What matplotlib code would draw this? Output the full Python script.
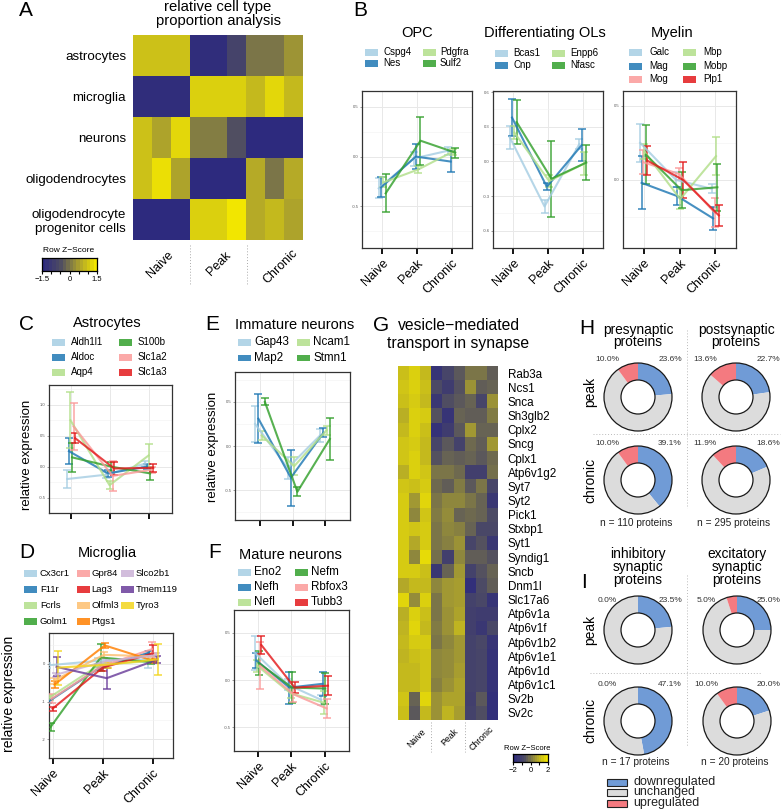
import numpy as np
import matplotlib
matplotlib.use("agg")
import matplotlib.pyplot as plt
from matplotlib.colors import LinearSegmentedColormap
from matplotlib.patches import Rectangle, Circle

plt.rcParams["font.family"] = ["Liberation Sans", "DejaVu Sans"]

# ---------------- data ----------------
conditions = ["Naive", "Peak", "Chronic"]

# A: relative cell type proportion (row z-scores, 3 replicates per condition)
cell_types = ["astrocytes", "microglia", "neurons", "oligodendrocytes",
              "oligodendrocyte\nprogenitor cells"]
a_z = [
    [1.0, 1.0, 1.0, -1.4, -1.4, -0.8, 0.0, 0.0, 0.4],
    [-1.4, -1.4, -1.4, 1.2, 1.2, 1.2, 0.9, 1.3, 0.9],
    [1.0, 0.6, 1.3, 0.1, 0.1, -0.5, -1.5, -1.5, -1.5],
    [1.0, 1.4, 0.6, -1.5, -1.5, -1.5, 0.7, 0.0, 0.7],
    [-1.5, -1.5, -1.5, 1.2, 1.2, 1.5, 0.7, 0.9, 0.6],
]

# B
opc_genes = ["Cspg4", "Nes", "Pdgfra", "Sulf2"]
opc_mean = [[-0.32, -0.02, 0.06], [-0.31, 0.0, -0.05], [-0.26, -0.13, 0.05], [-0.37, 0.16, 0.04]]
opc_err = [[0.1, 0.07, 0.04], [0.1, 0.13, 0.11], [0.05, 0.04, 0.03], [0.19, 0.24, 0.05]]

dol_genes = ["Bcas1", "Cnp", "Enpp6", "Nfasc"]
dol_mean = [[0.21, -0.39, 0.15], [0.38, -0.22, 0.14], [0.25, -0.17, -0.02], [0.34, -0.15, -0.01]]
dol_err = [[0.1, 0.06, 0.04], [0.16, 0.03, 0.14], [0.06, 0.05, 0.1], [0.19, 0.33, 0.15]]

mye_genes = ["Galc", "Mag", "Mog", "Mbp", "Mobp", "Plp1"]
mye_mean = [[0.25, 0.0, -0.06], [-0.02, -0.11, -0.26], [0.12, 0.04, -0.22],
            [0.19, -0.13, 0.16], [0.17, -0.07, -0.05], [0.13, 0.0, -0.24]]
mye_err = [[0.13, 0.05, 0.03], [0.18, 0.06, 0.08], [0.08, 0.04, 0.1],
           [0.05, 0.07, 0.13], [0.2, 0.12, 0.16], [0.1, 0.12, 0.07]]

# C
ast_genes = ["Aldh1l1", "Aldoc", "Aqp4", "S100b", "Slc1a2", "Slc1a3"]
ast_mean = [[-0.2, -0.13, 0.05], [0.25, -0.11, 0.0], [0.75, -0.3, 0.18],
            [0.15, 0.0, -0.11], [0.65, -0.15, -0.05], [0.46, -0.03, -0.02]]
ast_err = [[0.15, 0.05, 0.04], [0.21, 0.05, 0.04], [0.45, 0.06, 0.18],
           [0.24, 0.07, 0.1], [0.38, 0.24, 0.05], [0.08, 0.1, 0.06]]

# D
mic_genes = ["Cx3cr1", "F11r", "Fcrls", "Golm1", "Gpr84", "Lag3", "Olfml3", "Ptgs1",
             "Slco2b1", "Tmem119", "Tyro3"]
mic_mean = [[-0.04, 0.08, 0.12], [-1.0, -0.12, 0.3], [-0.89, -0.02, 0.07], [-1.68, 0.17, 0.05],
            [-0.93, -0.06, 0.39], [-1.19, -0.1, 0.28], [-0.45, 0.24, 0.2], [-0.55, 0.49, 0.07],
            [-0.29, 0.07, 0.23], [-0.08, -0.38, 0.11], [-0.1, -0.02, 0.12]]
mic_err = [[0.07, 0.08, 0.22], [0.03, 0.05, 0.05], [0.06, 0.06, 0.05], [0.1, 0.35, 0.05],
           [0.12, 0.06, 0.2], [0.05, 0.08, 0.22], [0.08, 0.08, 0.1], [0.1, 0.06, 0.05],
           [0.05, 0.05, 0.06], [0.25, 0.28, 0.1], [0.45, 0.08, 0.42]]

# E
imm_genes = ["Gap43", "Map2", "Ncam1", "Stmn1"]
imm_mean = [[0.25, -0.25, 0.12], [0.31, -0.36, 0.15], [0.12, -0.23, 0.18], [0.5, -0.52, 0.08]]
imm_err = [[0.2, 0.12, 0.07], [0.28, 0.32, 0.05], [0.05, 0.1, 0.05], [0.04, 0.05, 0.24]]

# F
mat_genes = ["Eno2", "Nefh", "Nefl", "Nefm", "Rbfox3", "Tubb3"]
mat_mean = [[0.29, -0.05, -0.21], [0.21, -0.08, -0.04], [0.15, -0.14, -0.24],
            [0.18, -0.08, -0.09], [0.15, -0.15, -0.3], [0.37, -0.08, -0.06]]
mat_err = [[0.18, 0.06, 0.05], [0.08, 0.17, 0.13], [0.06, 0.05, 0.12],
           [0.13, 0.16, 0.16], [0.25, 0.08, 0.1], [0.09, 0.06, 0.1]]

# G: vesicle-mediated transport in synapse (row z-scores)
g_genes = ["Rab3a", "Ncs1", "Snca", "Sh3glb2", "Cplx2", "Sncg", "Cplx1", "Atp6v1g2", "Syt7",
           "Syt2", "Pick1", "Stxbp1", "Syt1", "Syndig1", "Sncb", "Dnm1l", "Slc17a6",
           "Atp6v1a", "Atp6v1f", "Atp6v1b2", "Atp6v1e1", "Atp6v1d", "Atp6v1c1", "Sv2b", "Sv2c"]
g_z = [
    [1.3, 1.6, 1.2, -1.6, -1.0, -0.5, 0.0, 0.0, -0.4],
    [1.4, 1.6, 1.3, -0.8, -1.3, -0.6, 0.5, -0.4, -0.3],
    [1.3, 1.5, 1.2, -1.5, -0.7, -0.5, -0.3, -1.0, 0.5],
    [1.0, 1.6, 1.5, -0.6, -1.6, -0.3, -0.4, -0.4, 0.1],
    [1.2, 1.6, 1.3, -1.7, -1.3, -0.5, 0.6, -0.3, -0.3],
    [1.4, 1.5, 1.2, -1.0, -0.5, -1.1, -0.2, -0.4, 0.6],
    [1.4, 1.6, 1.2, -0.6, -0.3, -0.4, -0.3, -0.5, -0.2],
    [1.0, 1.6, 1.4, 0.0, 0.0, -0.2, -1.2, -1.2, -0.1],
    [1.4, 1.3, 1.5, -0.2, -0.4, 0.1, -0.5, 0.0, -1.0],
    [1.5, 0.6, 1.7, 0.0, 0.3, 0.3, 0.0, -0.3, -1.5],
    [1.5, 0.3, 1.4, 0.1, 0.4, -0.3, -0.2, -0.3, -0.8],
    [1.5, 1.4, 1.5, 0.0, 0.3, 0.2, -0.3, -0.9, -0.9],
    [1.5, 0.9, 1.5, 0.0, 0.2, 0.5, -1.0, -0.6, -1.5],
    [1.5, 0.3, 1.8, -0.1, -1.2, 0.3, -0.4, -0.4, -0.6],
    [1.5, 1.5, 1.3, -1.5, -0.3, 0.6, -1.1, -0.6, -0.3],
    [0.9, 1.2, 1.2, 0.3, 0.6, 0.7, -1.8, -0.8, -0.4],
    [1.7, 0.4, 1.6, 0.0, 0.6, 0.7, -1.1, -0.9, -1.6],
    [1.0, 1.6, 1.3, 0.0, 0.5, 0.8, -1.2, -1.3, -1.3],
    [1.1, 1.7, 1.2, 0.1, 0.5, 1.1, -1.2, -1.5, -0.9],
    [1.2, 1.5, 1.5, 0.0, 0.3, 0.6, -1.1, -0.9, -1.6],
    [1.1, 1.3, 1.4, 0.3, 0.4, 0.6, -1.1, -1.0, -1.7],
    [1.2, 1.2, 1.4, 0.3, 0.4, 0.7, -1.1, -1.0, -1.7],
    [1.2, 1.2, 1.4, 0.2, 0.5, 0.8, -1.1, -1.0, -1.7],
    [1.4, -0.3, 1.7, 0.5, 0.8, 0.8, -1.2, -0.5, -1.8],
    [1.3, -0.5, 1.2, 0.5, 1.1, 0.7, -1.1, -0.7, -1.8],
]

# H / I: % of proteins down / up regulated
h_titles = ["presynaptic\nproteins", "postsynaptic\nproteins"]
h_peak_down = [23.6, 22.7]
h_peak_up = [10.0, 13.6]
h_chronic_down = [39.1, 18.6]
h_chronic_up = [10.0, 11.9]
h_n = [110, 295]

i_titles = ["inhibitory\nsynaptic\nproteins", "excitatory\nsynaptic\nproteins"]
i_peak_down = [23.5, 25.0]
i_peak_up = [0.0, 5.0]
i_chronic_down = [47.1, 20.0]
i_chronic_up = [0.0, 10.0]
i_n = [17, 20]

reg_labels = ["downregulated", "unchanged", "upregulated"]
reg_colors = ["#709bd6", "#dcdcdc", "#f47a80"]

pal = ["#a6cee3", "#1f78b4", "#b2df8a", "#33a02c", "#fb9a99", "#e31a1c",
       "#fdbf6f", "#ff7f00", "#cab2d6", "#6a3d9a", "#f3d51e"]

hm_cmap = LinearSegmentedColormap.from_list(
    "bgy", [(0, "#2d2a7e"), (0.33, "#4f4d62"), (0.5, "#7b7548"), (0.67, "#a69c30"), (1, "#f2e600")])

# ---------------- helpers ----------------
W, H = 784, 811
fig = plt.figure(figsize=(W / 100, H / 100), dpi=100)


def axp(x0, y0, x1, y1):
    return fig.add_axes([x0 / W, 1 - y1 / H, (x1 - x0) / W, (y1 - y0) / H])


def ftext(x, y, s, **kw):
    return fig.text(x / W, 1 - y / H, s, **kw)


def legend_grid(xp, xl, ys, genes, colors, fs, pw=13, ph=7):
    nrows = len(ys)
    for k, (g, c) in enumerate(zip(genes, colors)):
        col, row = divmod(k, nrows)
        y = ys[row]
        fig.patches.append(Rectangle((xp[col] / W, 1 - (y + ph / 2) / H), pw / W, ph / H,
                                     transform=fig.transFigure, facecolor=c, alpha=0.85,
                                     edgecolor="none"))
        ftext(xl[col], y, g, ha="left", va="center", fontsize=fs)


def line_panel(box, means, errs, colors, ylim, yticks, ylabels, xlim, dodge=0.2, xlabels=True):
    ax = axp(*box)
    x = np.arange(1, 4)
    n = len(means)
    offs = np.linspace(-dodge / 2, dodge / 2, n)
    for i in range(n):
        ax.errorbar(x + offs[i], means[i], yerr=errs[i], color=colors[i], lw=1.5,
                    capsize=2.6, capthick=1.2, elinewidth=1.2, alpha=0.82, zorder=3)
    ax.set_xlim(*xlim)
    ax.set_ylim(*ylim)
    ax.set_yticks(yticks, ylabels)
    step = yticks[1] - yticks[0]
    ax.set_yticks(np.arange(yticks[0] - step / 2, ylim[1], step), minor=True)
    ax.set_xticks(x)
    if xlabels:
        ax.set_xticklabels(conditions, rotation=45, ha="right", rotation_mode="anchor", fontsize=9)
    else:
        ax.set_xticklabels([])
    ax.grid(which="major", color="#e8e8e8", lw=0.7)
    ax.grid(which="minor", axis="y", color="#f2f2f2", lw=0.4)
    ax.set_axisbelow(True)
    ax.tick_params(axis="y", which="major", labelsize=3, colors="#555555", length=1.5, width=0.4, pad=1)
    ax.tick_params(axis="y", which="minor", length=0)
    ax.tick_params(axis="x", length=4.5, width=1.3, color="black", pad=2)
    for s in ax.spines.values():
        s.set_color("#333333")
        s.set_linewidth(0.9)
    return ax


def heatmap(box, z, vmin, vmax):
    ax = axp(*box)
    z = np.array(z)
    ax.pcolormesh(z, cmap=hm_cmap, vmin=vmin, vmax=vmax)
    ax.set_xlim(0, z.shape[1])
    ax.set_ylim(z.shape[0], 0)
    for s in ax.spines.values():
        s.set_visible(False)
    ax.set_xticks([])
    return ax


def color_key(box, vmin, vmax, ticks, labels):
    ax = axp(*box)
    vals = np.linspace(vmin, vmax, 16)
    ax.pcolormesh(np.linspace(vmin, vmax, 17), [0, 1], vals[None, :], cmap=hm_cmap, vmin=vmin, vmax=vmax)
    ax.set_yticks([])
    ax.set_xticks(ticks, labels)
    ax.tick_params(axis="x", labelsize=5.5, length=2.5, width=0.8, pad=1)
    for s in ax.spines.values():
        s.set_linewidth(0.9)
    return ax


def donut(cx, cy, down, up, r=34):
    ax = axp(cx - r * 1.03, cy - r * 1.03, cx + r * 1.03, cy + r * 1.03)
    ax.pie([down, 100 - down - up, up], colors=reg_colors, startangle=90, counterclock=False,
           radius=1, wedgeprops=dict(width=0.5, edgecolor="none", linewidth=0))
    ax.add_patch(Circle((0, 0), 1, fill=False, ec="#1a1a1a", lw=0.9))
    ax.add_patch(Circle((0, 0), 0.5, fill=False, ec="#1a1a1a", lw=0.9))
    ax.set_xlim(-1.03, 1.03)
    ax.set_ylim(-1.03, 1.03)
    ax.set_aspect("equal")
    ax.axis("off")


def pct_labels(cx, ly, down, up):
    ftext(cx - 31, ly, f"{up:.1f}%", ha="center", va="center", fontsize=6, color="#333333")
    ftext(cx + 32, ly, f"{down:.1f}%", ha="center", va="center", fontsize=6, color="#333333")


# ---------------- panel letters ----------------
for letter, (x, y) in {"A": (26, 10), "B": (360, 10), "C": (27, 325), "D": (27, 553),
                       "E": (212, 325), "F": (215, 553), "G": (381, 326), "H": (587, 328),
                       "I": (584, 582)}.items():
    ftext(x, y, letter, ha="center", va="center", fontsize=15)

# ---------------- A ----------------
ftext(218, 14, "relative cell type\nproportion analysis", ha="center", va="center",
      fontsize=10.7, linespacing=0.95)
axA = heatmap((133, 35, 303, 240), a_z, -1.5, 1.5)
axA.set_yticks(np.arange(len(cell_types)) + 0.5, cell_types)
axA.tick_params(axis="y", length=0, labelsize=9.6, pad=5)
for lab, (x, y) in zip(conditions, [(167, 249), (225, 249), (292, 247)]):
    ftext(x, y, lab, rotation=45, ha="right", va="top", rotation_mode="anchor", fontsize=9)
for x in (190, 247):
    fig.add_artist(plt.Line2D([x / W, x / W], [1 - 245 / H, 1 - 285 / H], color="#aaaaaa",
                              lw=0.7, ls=(0, (1, 2))))
ftext(69, 250, "Row Z\u2212Score", ha="center", va="center", fontsize=6)
color_key((42, 258, 97, 271), -1.5, 1.5, [-1.5, -1, -0.5, 0, 0.5, 1, 1.5],
          ["\u22121.5", "", "", "0", "", "", "1.5"])

# ---------------- B ----------------
ftext(417, 33, "OPC", ha="center", va="center", fontsize=10.5)
ftext(545, 33, "Differentiating OLs", ha="center", va="center", fontsize=10.5)
ftext(672, 33, "Myelin", ha="center", va="center", fontsize=10.5)

c4 = [pal[0], pal[1], pal[2], pal[3]]
legend_grid([365, 423], [383, 440], [52, 63], opc_genes, c4, 7)
legend_grid([495, 552], [513, 570], [53, 65], dol_genes, c4, 7)
mye_colors = [pal[0], pal[1], pal[4], pal[2], pal[3], pal[5]]
legend_grid([629, 683], [649, 703], [52, 66, 79], mye_genes, mye_colors, 7)

line_panel((362, 91, 472, 248), opc_mean, opc_err, c4, (-0.92, 0.66), [-0.5, 0.0, 0.5],
           ["-0.5", "0.0", "0.5"], (0.42, 3.58))
line_panel((493, 91, 603, 248), dol_mean, dol_err, c4, (-0.6, 0.61), [-0.6, -0.3, 0.0, 0.3, 0.6],
           ["-0.6", "-0.3", "0.0", "0.3", "0.6"], (0.42, 3.58))
line_panel((623, 91, 736, 248), mye_mean, mye_err, mye_colors, (-0.46, 0.6), [0.0, 0.5],
           ["0.0", "0.5"], (0.42, 3.58))

# ---------------- C ----------------
ftext(107, 323, "Astrocytes", ha="center", va="center", fontsize=10.5)
legend_grid([52, 119], [71, 138], [342, 357, 372], ast_genes, pal[:6], 7)
line_panel((49, 385, 172, 513), ast_mean, ast_err, pal[:6], (-0.6, 1.32), [-0.5, 0.0, 0.5, 1.0],
           ["-0.5", "0.0", "0.5", "1.0"], (0.43, 3.58), xlabels=False)
ftext(27, 455, "relative expression", rotation=90, ha="center", va="center", fontsize=9.5)

# ---------------- D ----------------
ftext(107, 553, "Microglia", ha="center", va="center", fontsize=10.5)
legend_grid([24, 77, 121], [40, 91, 136], [573, 589, 605, 621], mic_genes, pal, 6.8)
line_panel((49, 633, 173, 758), mic_mean, mic_err, pal, (-2.03, 0.82), [-2, -1, 0],
           ["-2", "-1", "0"], (0.93, 3.4))
ftext(9, 694, "relative expression", rotation=90, ha="center", va="center", fontsize=10)

# ---------------- E ----------------
ftext(295, 325, "Immature neurons", ha="center", va="center", fontsize=10.5)
legend_grid([238, 297], [254, 313], [342, 358], imm_genes, c4, 8.4)
line_panel((235, 372, 350, 520), imm_mean, imm_err, c4, (-0.84, 0.84), [-0.5, 0.0, 0.5],
           ["-0.5", "0.0", "0.5"], (0.23, 3.77), dodge=0.3, xlabels=False)
ftext(213, 447, "relative expression", rotation=90, ha="center", va="center", fontsize=9.5)

# ---------------- F ----------------
ftext(290, 555, "Mature neurons", ha="center", va="center", fontsize=10.5)
legend_grid([238, 295], [254, 311], [572, 587, 602], mat_genes, pal[:6], 8.4)
line_panel((234, 610, 349, 751), mat_mean, mat_err, pal[:6], (-0.505, 0.74), [-0.5, 0.0, 0.5],
           ["-0.5", "0.0", "0.5"], (0.28, 3.73))

# ---------------- G ----------------
ftext(459, 326, "vesicle\u2212mediated", ha="center", va="center", fontsize=11.3)
ftext(458, 343, "transport in synapse", ha="center", va="center", fontsize=11.3)
axG = heatmap((398, 366, 498, 720), g_z, -2, 2)
axG.yaxis.tick_right()
axG.set_yticks(np.arange(len(g_genes)) + 0.5, g_genes)
axG.tick_params(axis="y", length=0, labelsize=8.4, pad=7)
for lab, (x, y) in zip(conditions, [(421, 727), (454, 727), (489, 725)]):
    ftext(x, y, lab, rotation=45, ha="right", va="top", rotation_mode="anchor", fontsize=6.3)
for x in (431.3, 464.7):
    fig.add_artist(plt.Line2D([x / W, x / W], [1 - 722 / H, 1 - 752 / H], color="#aaaaaa",
                              lw=0.7, ls=(0, (1, 2))))
ftext(527, 748, "Row Z\u2212Score", ha="center", va="center", fontsize=5.5)
color_key((513, 754, 548, 762), -2, 2, [-2, -1, 0, 1, 2], ["\u22122", "", "0", "", "2"])

# ---------------- H ----------------
hx = [638, 736]
for k in range(2):
    ftext(hx[k], 336, h_titles[k], ha="center", va="center", fontsize=9.9, linespacing=0.9)
    donut(hx[k], 397, h_peak_down[k], h_peak_up[k])
    pct_labels(hx[k], 360, h_peak_down[k], h_peak_up[k])
    donut(hx[k], 480, h_chronic_down[k], h_chronic_up[k])
    pct_labels(hx[k], 443, h_chronic_down[k], h_chronic_up[k])
    ftext(hx[k] - 2, 523, f"n = {h_n[k]} proteins", ha="center", va="center", fontsize=7.3,
          color="#222222")
ftext(590, 392, "peak", rotation=90, ha="center", va="center", fontsize=10)
ftext(590, 480, "chronic", rotation=90, ha="center", va="center", fontsize=10)
fig.add_artist(plt.Line2D([687 / W, 687 / W], [1 - 330 / H, 1 - 508 / H], color="#bbbbbb",
                          lw=0.7, ls=(0, (1, 2))))
fig.add_artist(plt.Line2D([593 / W, 780 / W], [1 - 434 / H, 1 - 434 / H], color="#bbbbbb",
                          lw=0.7, ls=(0, (1, 2))))

# ---------------- I ----------------
ix = [638, 737]
for k in range(2):
    ftext(ix[k], 567, i_titles[k], ha="center", va="center", fontsize=9.9, linespacing=0.88)
    donut(ix[k], 630, i_peak_down[k], i_peak_up[k])
    pct_labels(ix[k], 600, i_peak_down[k], i_peak_up[k])
    donut(ix[k], 721, i_chronic_down[k], i_chronic_up[k])
    pct_labels(ix[k], 685, i_chronic_down[k], i_chronic_up[k])
    ftext(ix[k] - 2, 762, f"n = {i_n[k]} proteins", ha="center", va="center", fontsize=7.3,
          color="#222222")
ftext(590, 630, "peak", rotation=90, ha="center", va="center", fontsize=10)
ftext(590, 720, "chronic", rotation=90, ha="center", va="center", fontsize=10)
fig.add_artist(plt.Line2D([687 / W, 687 / W], [1 - 575 / H, 1 - 747 / H], color="#bbbbbb",
                          lw=0.7, ls=(0, (1, 2))))
fig.add_artist(plt.Line2D([590 / W, 762 / W], [1 - 673 / H, 1 - 673 / H], color="#bbbbbb",
                          lw=0.7, ls=(0, (1, 2))))

# legend for H / I
for k, (lab, c) in enumerate(zip(reg_labels, reg_colors)):
    y = 782 + 10.5 * k
    fig.patches.append(Rectangle((607 / W, 1 - (y + 3.5) / H), 20 / W, 7 / H,
                                 transform=fig.transFigure, facecolor=c, edgecolor="#222222",
                                 lw=0.8))
    ftext(633, y, lab, ha="left", va="center", fontsize=9, color="#222222")

fig.savefig("out.png", dpi=100)
